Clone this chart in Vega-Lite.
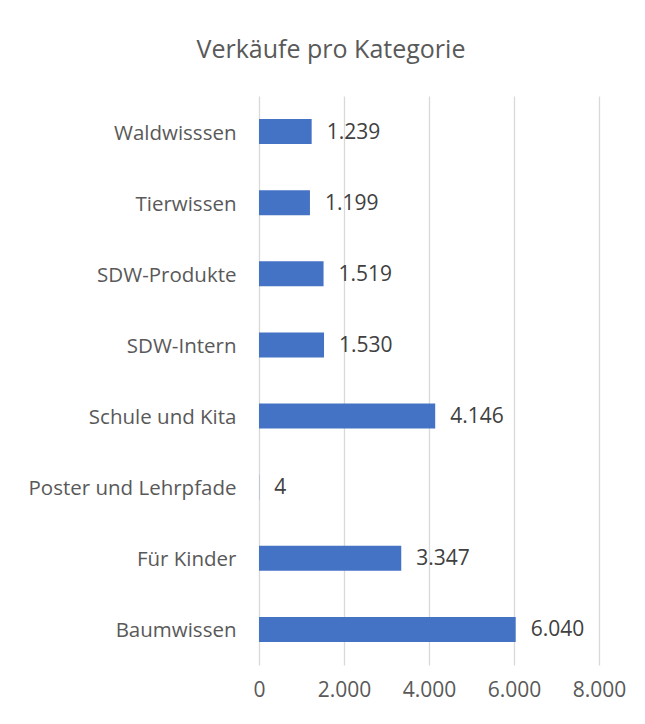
{
  "$schema": "https://vega.github.io/schema/vega-lite/v6.json",
  "autosize": {"type": "none"},
  "width": 340,
  "height": 569,
  "padding": {"left": 259, "top": 96, "right": 46, "bottom": 59},
  "background": "white",
  "title": {
    "text": "Verkäufe pro Kategorie",
    "anchor": "middle",
    "dx": -98,
    "offset": 33,
    "font": "Open Sans",
    "fontSize": 25,
    "fontWeight": "normal",
    "color": "#595959"
  },
  "config": {
    "locale": {"number": {"decimal": ",", "thousands": ".", "grouping": [3], "currency": ["", " €"]}},
    "view": {"stroke": null},
    "font": "Open Sans"
  },
  "data": {
    "values": [
      {"kategorie": "Waldwisssen", "verkaeufe": 1239},
      {"kategorie": "Tierwissen", "verkaeufe": 1199},
      {"kategorie": "SDW-Produkte", "verkaeufe": 1519},
      {"kategorie": "SDW-Intern", "verkaeufe": 1530},
      {"kategorie": "Schule und Kita", "verkaeufe": 4146},
      {"kategorie": "Poster und Lehrpfade", "verkaeufe": 4},
      {"kategorie": "Für Kinder", "verkaeufe": 3347},
      {"kategorie": "Baumwissen", "verkaeufe": 6040}
    ]
  },
  "encoding": {
    "y": {
      "field": "kategorie",
      "type": "nominal",
      "sort": ["Waldwisssen", "Tierwissen", "SDW-Produkte", "SDW-Intern", "Schule und Kita", "Poster und Lehrpfade", "Für Kinder", "Baumwissen"],
      "scale": {"paddingInner": 0.65, "paddingOuter": 0.325},
      "axis": {
        "title": null,
        "ticks": false,
        "domain": false,
        "labelPadding": 23,
        "labelLimit": 400,
        "labelFont": "Open Sans",
        "labelFontSize": 20.5,
        "labelColor": "#595959",
        "labelOffset": 2
      }
    },
    "x": {
      "field": "verkaeufe",
      "type": "quantitative",
      "scale": {"domain": [0, 8000], "nice": false},
      "axis": {
        "title": null,
        "values": [0, 2000, 4000, 6000, 8000],
        "format": ",d",
        "ticks": false,
        "domain": false,
        "grid": true,
        "gridColor": "#d9d9d9",
        "gridWidth": 1.3,
        "labelFlush": false,
        "labelPadding": 14,
        "labelFont": "Open Sans",
        "labelFontSize": 21,
        "labelColor": "#595959"
      }
    }
  },
  "layer": [
    {"mark": {"type": "bar", "color": "#4472C4"}},
    {
      "mark": {"type": "text", "align": "left", "baseline": "middle", "dx": 15, "dy": 1, "font": "Open Sans", "fontSize": 21, "color": "#404040"},
      "encoding": {"text": {"field": "verkaeufe", "type": "quantitative", "format": ",d"}}
    }
  ]
}
